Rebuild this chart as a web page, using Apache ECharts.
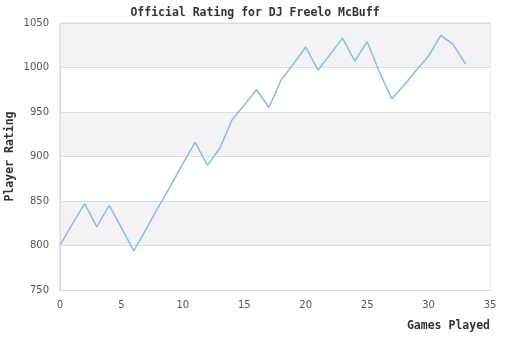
<!DOCTYPE html>
<html><head><meta charset="utf-8">
<script src="https://cdn.jsdelivr.net/npm/echarts@6/dist/echarts.min.js"></script>
<style>html,body{margin:0;padding:0;background:#fff}#c{width:510px;height:340px}</style>
</head><body><div id="c"></div>
<script>
const titleText = "Official Rating for DJ Freelo McBuff";
const xName = "Games Played";
const yName = "Player Rating";
const ratings = [800,824,847,821,845,820,794,818,843,867,892,916,890,909,941,958,975,955,986,1004,1023,997,1015,1033,1007,1029,995,965,980,997,1013,1036,1026,1004];
const xMin = 0, xMax = 35, xStep = 5;
const yMin = 750, yMax = 1050, yStep = 50;

const pts = ratings.map((v, i) => [i, v]);
const chart = echarts.init(document.getElementById('c'));
const mono = '"DejaVu Sans Mono", monospace';
chart.setOption({
  animation: false,
  title: { text: titleText, left: 'center', top: 2, textStyle: { fontFamily: mono, fontWeight: 'bold', fontSize: 11.5, color: '#333' } },
  grid: { left: 60, right: 20, top: 23, bottom: 50, outerBoundsMode: 'none', containLabel: false, show: true, borderColor: '#d9d9d9', borderWidth: 1, backgroundColor: 'transparent' },
  xAxis: {
    type: 'value', min: xMin, max: xMax, interval: xStep,
    name: xName, nameLocation: 'end', nameGap: 0, nameMoveOverlap: false,
    nameTextStyle: { fontFamily: mono, fontWeight: 'bold', fontSize: 11.5, color: '#333', align: 'right', verticalAlign: 'top', padding: [30, 0, 0, 0] },
    axisLine: { show: true, lineStyle: { color: '#d9d9d9' } },
    axisTick: { show: false },
    axisLabel: { fontFamily: 'DejaVu Sans', fontSize: 10, color: '#555', margin: 10, formatter: v => String(v) },
    splitLine: { show: false }
  },
  yAxis: {
    type: 'value', min: yMin, max: yMax, interval: yStep,
    name: yName, nameLocation: 'middle', nameGap: 44, nameRotate: 90, nameMoveOverlap: false,
    nameTextStyle: { fontFamily: mono, fontWeight: 'bold', fontSize: 11.5, color: '#333' },
    axisLine: { show: true, lineStyle: { color: '#d9d9d9' } },
    axisTick: { show: false },
    axisLabel: { fontFamily: 'DejaVu Sans', fontSize: 10, color: '#555', margin: 11, formatter: v => String(v) },
    splitLine: { show: true, lineStyle: { color: '#dddddd' } },
    splitArea: { show: true, areaStyle: { color: ['#ffffff', '#f3f3f3'] } }
  },
  series: [{
    type: 'line', data: pts, showSymbol: false, symbol: 'none',
    lineStyle: { color: '#88bbee', width: 1.5 }
  }]
});
</script></body></html>
